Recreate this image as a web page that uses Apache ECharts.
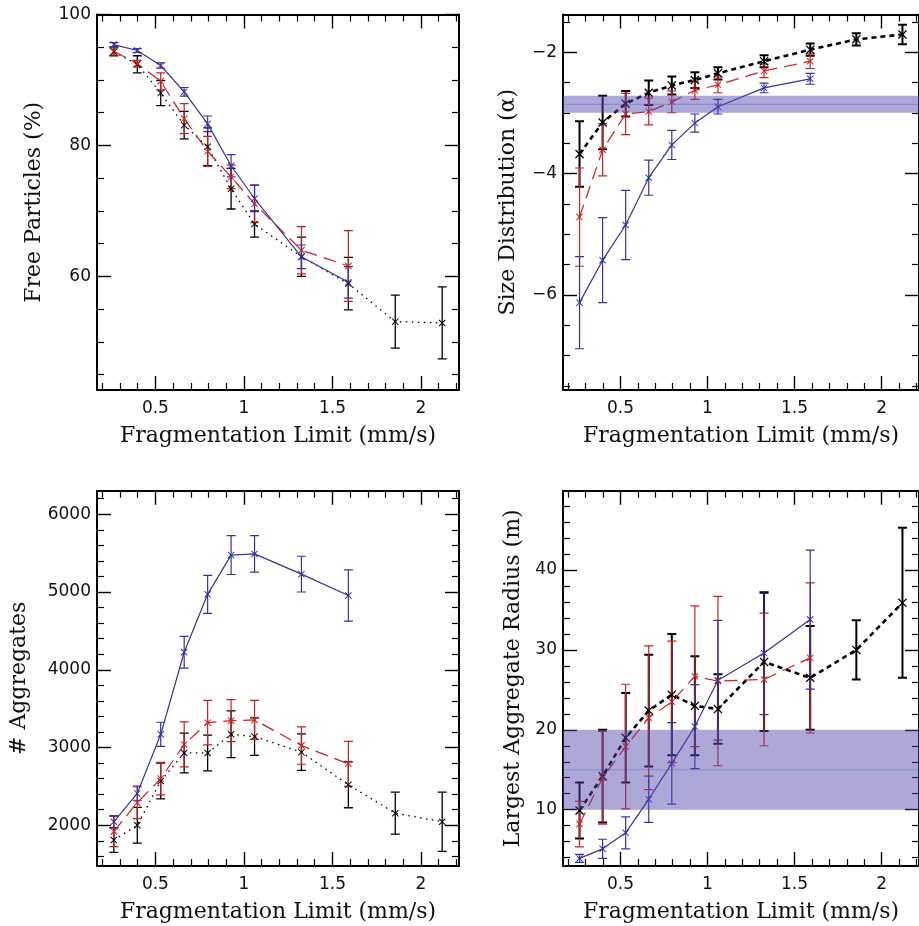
<!DOCTYPE html>
<html>
<head>
<meta charset="utf-8">
<script src="https://cdn.jsdelivr.net/npm/echarts@6/dist/echarts.min.js"></script>
<style>
  html, body { margin: 0; padding: 0; background: #fff; }
  #chart { width: 919px; height: 926px; }
</style>
</head>
<body>
<div id="chart"></div>
<script>
// Fragmentation limit values (mm/s) shared by every panel
const fragLimit = [0.265, 0.3975, 0.53, 0.6625, 0.795, 0.9275, 1.06, 1.325, 1.59, 1.855, 2.12];

// Free particles (%)
const freeBlack    = [94.3, 92.4, 88.0, 83.1, 79.8, 73.4, 68.0, 63.0, 58.9, 53.1, 52.9];
const freeBlackErr = [0.6, 1.3, 1.9, 2.1, 2.9, 3.1, 2.0, 3.0, 4.0, 4.05, 5.5];
const freeRed      = [94.4, 92.5, 89.8, 84.1, 79.1, 75.2, 71.1, 64.0, 61.6];
const freeRedErr   = [0.6, 0.5, 1.3, 2.3, 2.3, 1.8, 2.9, 3.6, 5.4];
const freeBlue     = [95.4, 94.5, 92.2, 88.2, 83.3, 76.9, 71.9, 63.0, 59.1];
const freeBlueErr  = [0.3, 0.3, 0.4, 0.65, 1.2, 1.7, 2.0, 1.8, 2.4];

// Size distribution slope (alpha)
const alphaBlack    = [-3.68, -3.16, -2.85, -2.67, -2.55, -2.46, -2.35, -2.15, -1.96, -1.79, -1.71];
const alphaBlackErr = [0.54, 0.44, 0.21, 0.2, 0.15, 0.13, 0.1, 0.1, 0.1, 0.1, 0.16];
const alphaRed      = [-4.72, -3.61, -3.02, -2.98, -2.82, -2.63, -2.54, -2.31, -2.15];
const alphaRedErr   = [0.81, 0.43, 0.34, 0.22, 0.18, 0.15, 0.13, 0.11, 0.12];
const alphaBlue     = [-6.13, -5.43, -4.85, -4.07, -3.53, -3.17, -2.90, -2.59, -2.44];
const alphaBlueErr  = [0.76, 0.7, 0.57, 0.29, 0.24, 0.15, 0.12, 0.08, 0.09];
const alphaBand     = [-3.0, -2.72, -2.86];   // low, high, centre

// Number of aggregates
const aggBlack    = [1810, 2000, 2570, 2930, 2930, 3170, 3140, 2940, 2520, 2155, 2045];
const aggBlackErr = [160, 230, 230, 255, 230, 300, 240, 235, 295, 270, 380];
const aggRed      = [1920, 2290, 2600, 3040, 3320, 3345, 3355, 3025, 2790];
const aggRedErr   = [195, 205, 210, 290, 285, 270, 250, 240, 290];
const aggBlue     = [2045, 2410, 3170, 4225, 4970, 5475, 5490, 5230, 4955];
const aggBlueErr  = [80, 95, 155, 205, 245, 250, 235, 230, 330];

// Largest aggregate radius (m)
const radBlack    = [9.9, 14.2, 19.0, 22.4, 24.4, 23.0, 22.6, 28.5, 26.5, 30.0, 35.9];
const radBlackErr = [3.5, 5.8, 5.6, 7.0, 7.6, 6.2, 4.35, 8.65, 6.5, 3.7, 9.4];
const radRed      = [8.2, 14.0, 17.9, 21.5, 23.5, 26.7, 26.1, 26.3, 29.0];
const radRedErr   = [2.85, 5.8, 7.8, 9.0, 7.6, 8.8, 10.6, 8.3, 9.4];
const radBlue     = [3.9, 5.1, 7.1, 11.3, 15.8, 20.4, 26.2, 29.6, 33.8];
const radBlueErr  = [0.5, 1.2, 2.0, 2.9, 5.1, 5.25, 7.5, 7.7, 8.7];
const radBand     = [10, 20, 15];

// Tick values
const xMajor = [0.5, 1, 1.5, 2];
const xMinor = [0.2, 0.3, 0.4, 0.6, 0.7, 0.8, 0.9, 1.1, 1.2, 1.3, 1.4, 1.6, 1.7, 1.8, 1.9, 2.1, 2.2];
const freeMajor  = [60, 80, 100];
const freeMinor  = [45, 50, 55, 65, 70, 75, 85, 90, 95];
const alphaMajor = [-6, -4, -2];
const alphaMinor = [-7.5, -7, -6.5, -5.5, -5, -4.5, -3.5, -3, -2.5, -1.5];
const aggMajor   = [2000, 3000, 4000, 5000, 6000];
const aggMinor   = [1600, 1800, 2200, 2400, 2600, 2800, 3200, 3400, 3600, 3800,
                    4200, 4400, 4600, 4800, 5200, 5400, 5600, 5800, 6200];
const radMajor   = [10, 20, 30, 40];
const radMinor   = [4, 6, 8, 12, 14, 16, 18, 22, 24, 26, 28, 32, 34, 36, 38, 42, 44, 46, 48];

const X_RANGE = [0.17, 2.215];
const C_BLACK = '#000000', C_RED = '#cf1f1f', C_BLUE = '#34349e';
const TITLE_FONT = 'DejaVu Serif';
const NUM_FONT = 'DejaVu Sans';
const crossPath = 'path://M0,1L1,0L5,4L9,0L10,1L6,5L10,9L9,10L5,6L1,10L0,9L4,5Z';

const panels = [
  { grid: { left: 97, top: 14.5, width: 362, height: 375.5 }, y: [42.66, 100], yMajor: freeMajor, yMinor: freeMinor,
    yName: 'Free Particles (%)', yGap: 52, bold: false,
    black: [freeBlack, freeBlackErr], red: [freeRed, freeRedErr], blue: [freeBlue, freeBlueErr] },
  { grid: { left: 563, top: 14.5, width: 362, height: 375.5 }, y: [-7.57, -1.38], yMajor: alphaMajor, yMinor: alphaMinor,
    yName: 'Size Distribution (α)', yGap: 44, bold: true, band: alphaBand,
    black: [alphaBlack, alphaBlackErr], red: [alphaRed, alphaRedErr], blue: [alphaBlue, alphaBlueErr] },
  { grid: { left: 97, top: 490.7, width: 362, height: 375.3 }, y: [1476, 6303], yMajor: aggMajor, yMinor: aggMinor,
    yName: '# Aggregates', yGap: 67, bold: false,
    black: [aggBlack, aggBlackErr], red: [aggRed, aggRedErr], blue: [aggBlue, aggBlueErr] },
  { grid: { left: 563, top: 490.7, width: 362, height: 375.3 }, y: [2.95, 49.93], yMajor: radMajor, yMinor: radMinor,
    yName: 'Largest Aggregate Radius (m)', yGap: 39, bold: true, band: radBand,
    black: [radBlack, radBlackErr], red: [radRed, radRedErr], blue: [radBlue, radBlueErr] }
];

const fmtNum = v => (v < 0 ? '\u2212' + Math.abs(v) : String(v));

const grids = [], xAxes = [], yAxes = [], series = [];

function axisSet(list, gi, pos, range, major, minor, opts) {
  const base = { type: 'value', gridIndex: gi, position: pos, offset: 0, min: range[0], max: range[1],
                 splitLine: { show: false }, minorTick: { show: false } };
  // frame edge with long ticks
  list.push(Object.assign({}, base, {
    axisLine: { show: true, onZero: false, lineStyle: { color: '#000', width: 2 } },
    axisTick: { show: true, inside: true, length: 14, customValues: major, lineStyle: { color: '#000', width: 1.4 } },
    axisLabel: opts.labels ? { show: true, customValues: major, formatter: fmtNum, color: '#111',
                               fontFamily: NUM_FONT, fontSize: 17, margin: opts.margin } : { show: false }
  }, opts.name ? { name: opts.name, nameLocation: 'middle', nameGap: opts.nameGap,
                   nameTextStyle: { fontFamily: TITLE_FONT, fontSize: 22, color: '#111' } } : {}));
  // short ticks
  list.push(Object.assign({}, base, {
    axisLine: { show: false, onZero: false },
    axisTick: { show: true, inside: true, length: 7, customValues: minor, lineStyle: { color: '#000', width: 1.2 } },
    axisLabel: { show: false }
  }));
}

function errorBars(axBase, xs, ys, errs, color, width) {
  const data = ys.map((v, i) => [xs[i], v - errs[i], v + errs[i]]);
  series.push({
    type: 'custom', xAxisIndex: axBase.x, yAxisIndex: axBase.y, z: 3, silent: true,
    data: data, encode: { x: 0, y: [1, 2] }, clip: true,
    renderItem: function (params, api) {
      const x = api.value(0);
      const top = api.coord([x, api.value(2)]);
      const bot = api.coord([x, api.value(1)]);
      const cap = 4.5;
      const style = { stroke: color, lineWidth: width };
      return { type: 'group', children: [
        { type: 'line', shape: { x1: top[0], y1: top[1], x2: bot[0], y2: bot[1] }, style: style },
        { type: 'line', shape: { x1: top[0] - cap, y1: top[1], x2: top[0] + cap, y2: top[1] }, style: style },
        { type: 'line', shape: { x1: bot[0] - cap, y1: bot[1], x2: bot[0] + cap, y2: bot[1] }, style: style }
      ] };
    }
  });
}

function lineSeries(axBase, xs, ys, color, width, dash, sym) {
  series.push({
    type: 'line', xAxisIndex: axBase.x, yAxisIndex: axBase.y, z: 4, silent: true,
    data: ys.map((v, i) => [xs[i], v]),
    symbol: crossPath, symbolSize: sym, showSymbol: true,
    itemStyle: { color: color },
    lineStyle: { color: color, width: width, type: dash },
    animation: false, clip: true
  });
}

panels.forEach((p, gi) => {
  grids.push(Object.assign({ containLabel: false }, p.grid));
  const xBase = xAxes.length, yBase = yAxes.length;
  axisSet(xAxes, gi, 'bottom', X_RANGE, xMajor, xMinor,
          { labels: true, margin: 10, name: 'Fragmentation Limit (mm/s)', nameGap: 35 });
  axisSet(xAxes, gi, 'top', X_RANGE, xMajor, xMinor, { labels: false });
  axisSet(yAxes, gi, 'left', p.y, p.yMajor, p.yMinor,
          { labels: true, margin: 6, name: p.yName, nameGap: p.yGap });
  axisSet(yAxes, gi, 'right', p.y, p.yMajor, p.yMinor, { labels: false });
  const ax = { x: xBase, y: yBase };

  const blackWidth = p.bold ? 2.6 : 1.3;
  const blackDash = p.bold ? [5, 4] : [1.5, 4.5];
  const blackBar = p.bold ? 2.0 : 1.3;

  errorBars(ax, fragLimit, p.black[0], p.black[1], C_BLACK, blackBar);
  lineSeries(ax, fragLimit, p.black[0], C_BLACK, blackWidth, blackDash, p.bold ? 9 : 7);
  errorBars(ax, fragLimit, p.red[0], p.red[1], C_RED, 1.2);
  lineSeries(ax, fragLimit, p.red[0], C_RED, 1.2, [13, 7], 7);
  errorBars(ax, fragLimit, p.blue[0], p.blue[1], C_BLUE, 1.2);
  lineSeries(ax, fragLimit, p.blue[0], C_BLUE, 1.2, 'solid', 7);

  if (p.band) {
    // translucent observational range with its central value
    series.push({
      type: 'custom', xAxisIndex: ax.x, yAxisIndex: ax.y, z: 6, silent: true,
      data: [[X_RANGE[0], p.band[0], p.band[1], p.band[2]]],
      encode: { x: 0, y: [1, 2] },
      renderItem: function (params, api) {
        const cs = params.coordSys;
        const lo = api.coord([api.value(0), api.value(1)]);
        const hi = api.coord([api.value(0), api.value(2)]);
        const mid = api.coord([api.value(0), api.value(3)]);
        return { type: 'group', children: [
          { type: 'rect', shape: { x: cs.x, y: hi[1], width: cs.width, height: lo[1] - hi[1] },
            style: { fill: 'rgba(80,70,170,0.47)' } },
          { type: 'line', shape: { x1: cs.x, y1: mid[1], x2: cs.x + cs.width, y2: mid[1] },
            style: { stroke: 'rgba(80,80,170,0.35)', lineWidth: 1.2 } }
        ] };
      }
    });
  }
});

const chart = echarts.init(document.getElementById('chart'), null, { renderer: 'canvas' });
chart.setOption({
  animation: false,
  backgroundColor: '#ffffff',
  grid: grids,
  xAxis: xAxes,
  yAxis: yAxes,
  series: series
});
</script>
</body>
</html>
